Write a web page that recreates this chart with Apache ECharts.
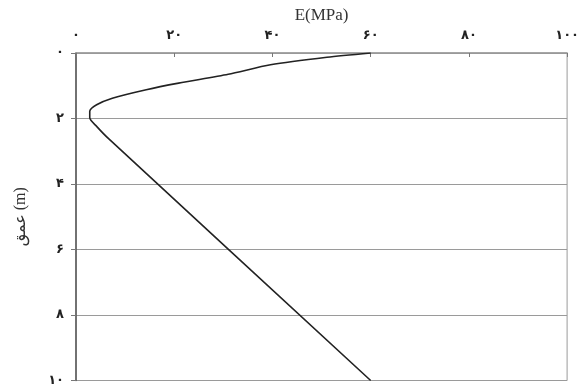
<!DOCTYPE html>
<html><head><meta charset="utf-8">
<script src="https://cdn.jsdelivr.net/npm/echarts@6/dist/echarts.min.js"></script>
<style>html,body{margin:0;padding:0;background:#fff}#c{width:582px;height:387px}</style>
</head><body><div id="c"></div>
<script>
var xTickLabels = {0:'۰',20:'۲۰',40:'۴۰',60:'۶۰',80:'۸۰',100:'۱۰۰'};
var yTickLabels = {0:'۰',2:'۲',4:'۴',6:'۶',8:'۸',10:'۱۰'};
var modulusE = [60, 51.1, 39.6, 31.0, 20.9, 14.3, 7.4, 4.2, 2.8, 2.8, 4.2, 6.8, 60];
var depth =    [0, 0.13, 0.36, 0.65, 0.92, 1.12, 1.38, 1.58, 1.78, 1.98, 2.24, 2.64, 10];
var data = modulusE.map(function(e,i){return [e, depth[i]];});
var chart = echarts.init(document.getElementById('c'));
chart.setOption({
  animation:false,
  grid:{left:76,right:9,top:53,bottom:5,show:true,borderColor:'#9a9a9a',borderWidth:1},
  xAxis:{type:'value',position:'top',min:0,max:100,interval:20,
    name:'E(MPa)',nameLocation:'middle',nameGap:29,
    nameTextStyle:{fontFamily:'Liberation Serif',fontSize:17,color:'#333'},
    axisLine:{show:true,lineStyle:{color:'#999',width:1.5}},
    axisTick:{show:true,inside:true,length:4,lineStyle:{color:'#777'}},
    axisLabel:{margin:11,fontFamily:'DejaVu Sans',fontSize:13,fontWeight:'bold',color:'#222',
      formatter:function(v){return xTickLabels[v]||'';}},
    splitLine:{show:false}},
  yAxis:{type:'value',inverse:true,min:0,max:10,interval:2,
    name:'عمق (m)',nameLocation:'middle',nameGap:47,nameRotate:90,
    nameTextStyle:{fontFamily:'Liberation Serif, DejaVu Sans',fontSize:16,color:'#333'},
    axisLine:{show:true,lineStyle:{color:'#555',width:1.5}},
    axisTick:{show:true,length:5,lineStyle:{color:'#777'}},
    axisLabel:{margin:12,fontFamily:'DejaVu Sans',fontSize:13,fontWeight:'bold',color:'#222',
      formatter:function(v){return yTickLabels[v]||'';}},
    splitLine:{show:true,lineStyle:{color:'#9a9a9a',width:1}}},
  series:[{type:'line',data:data,showSymbol:false,smooth:0.25,
    lineStyle:{color:'#222',width:1.6}}]
});
</script></body></html>
